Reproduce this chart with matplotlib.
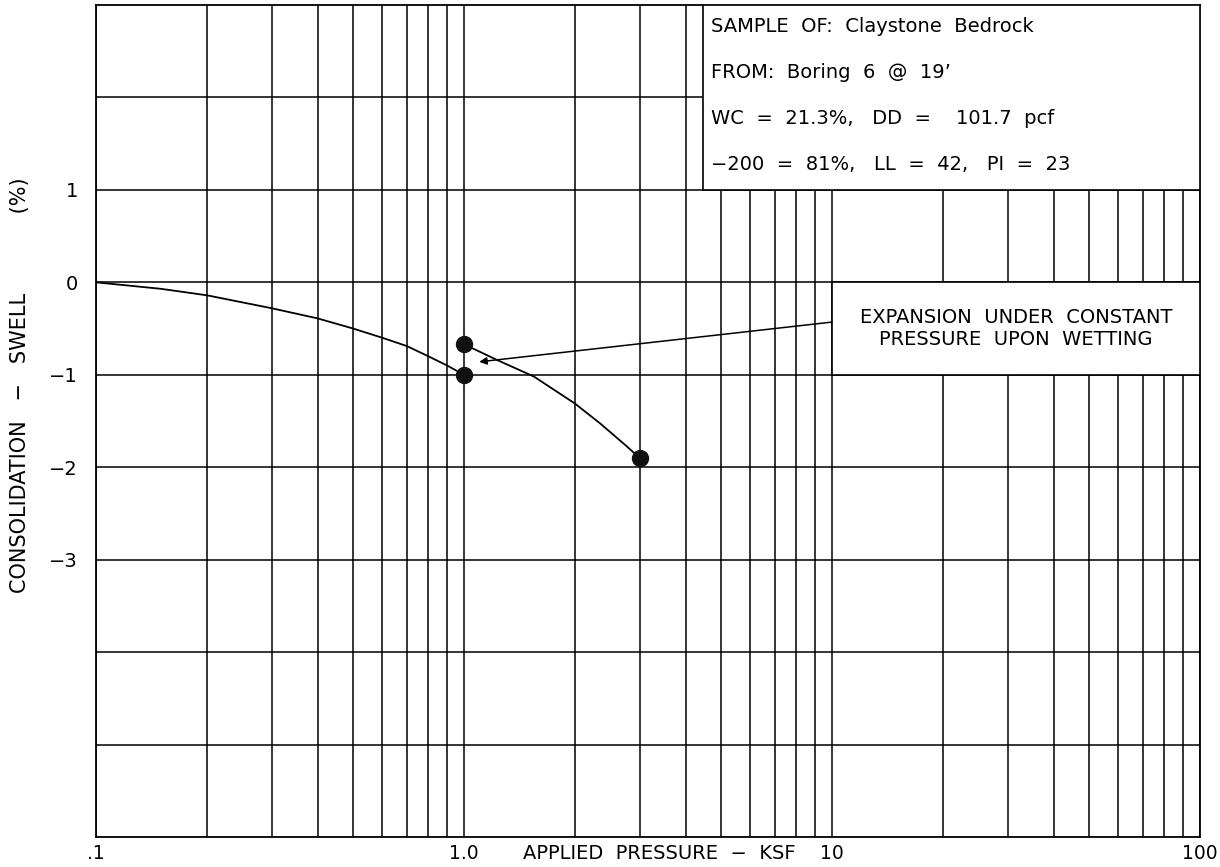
import matplotlib
matplotlib.use("Agg")
import matplotlib.pyplot as plt
from matplotlib.patches import Rectangle
from matplotlib.ticker import LogLocator, NullFormatter
import matplotlib.transforms as mtransforms

plt.rcParams['font.family'] = ['DejaVu Sans']

# loading curve (before wetting)
load_p = [0.1, 0.15, 0.2, 0.3, 0.4, 0.5, 0.6, 0.7, 0.8, 0.9, 1.0]
load_strain = [0.0, -0.07, -0.14, -0.28, -0.39, -0.50, -0.60, -0.69, -0.80, -0.90, -1.0]

# curve after wetting
wet_p = [1.0, 1.23, 1.55, 2.0, 2.35, 2.78, 3.0]
wet_strain = [-0.67, -0.84, -1.02, -1.31, -1.53, -1.78, -1.90]

# measured points
pt_p = [1.0, 1.0, 3.0]
pt_strain = [-1.0, -0.67, -1.90]

x_ticks = [0.1, 1, 10, 100]
x_labels = ['.1', '1.0', '10', '100']
y_grid = [-5, -4, -3, -2, -1, 0, 1, 2]
y_labels = ['', '', '\u22123', '\u22122', '\u22121', '0', '1', '']

info_lines = [
    "SAMPLE  OF:  Claystone  Bedrock",
    "FROM:  Boring  6  @  19\u2019",
    "WC  =  21.3%,   DD  =    101.7  pcf",
    "\u2212200  =  81%,   LL  =  42,   PI  =  23",
]
note = "EXPANSION  UNDER  CONSTANT\nPRESSURE  UPON  WETTING"

fig = plt.figure(figsize=(12.2, 8.67), dpi=100)
ax = fig.add_axes([96 / 1220, 30 / 867, 1104 / 1220, 832 / 867])

ax.set_xscale('log')
ax.set_xlim(0.1, 100)
ax.set_ylim(-6, 3)

ax.set_xticks(x_ticks)
ax.set_xticklabels(x_labels, fontsize=13.5)
ax.xaxis.set_minor_locator(LogLocator(base=10, subs=range(2, 10)))
ax.xaxis.set_minor_formatter(NullFormatter())
ax.set_yticks(y_grid)
ax.set_yticklabels(y_labels, fontsize=14)
ax.tick_params(which='both', length=0)
ax.tick_params(axis='x', pad=5)
ax.tick_params(axis='y', pad=13)

ax.set_axisbelow(True)
ax.grid(True, which='both', color='black', lw=1.1)
for s in ax.spines.values():
    s.set_linewidth(1.3)

# curves and points
ax.plot(load_p, load_strain, color='black', lw=1.3, zorder=4)
ax.plot(wet_p, wet_strain, color='black', lw=1.3, zorder=4)
ax.plot(pt_p, pt_strain, 'o', color='#111111', ms=11.5, zorder=5)

# info box, top right
mixed = mtransforms.blended_transform_factory(ax.transAxes, ax.transData)
ax.add_patch(Rectangle((0.55, 1), 0.45, 2, transform=mixed,
                       facecolor='white', edgecolor='black', lw=1.2, zorder=3))
for i, line in enumerate(info_lines):
    ax.text(0.557, 2.77 - i * 0.497, line, transform=mixed,
            fontsize=14, va='center', ha='left', zorder=6)

# annotation box
ax.add_patch(Rectangle((10, -1), 90, 1, facecolor='white', edgecolor='black', lw=1.2, zorder=3))
ax.text(31.6, -0.5, note, fontsize=14, ha='center', va='center', linespacing=1.25, zorder=6)
ax.annotate('', xy=(1.1, -0.86), xytext=(10, -0.43),
            arrowprops=dict(arrowstyle='-|>', lw=1.1, color='black', mutation_scale=11,
                            shrinkA=0, shrinkB=0), zorder=6)

# axis titles
ax.annotate("APPLIED  PRESSURE  \u2212  KSF", xy=(3.39, 0), xycoords=('data', 'axes fraction'),
            xytext=(0, -5), textcoords='offset points', fontsize=14, ha='center', va='top')
fig.text(20 / 1220, 1 - 385 / 867, "CONSOLIDATION   \u2212   SWELL            (%)", rotation=90,
         fontsize=15, ha='center', va='center')

fig.savefig('out.png', dpi=100)
